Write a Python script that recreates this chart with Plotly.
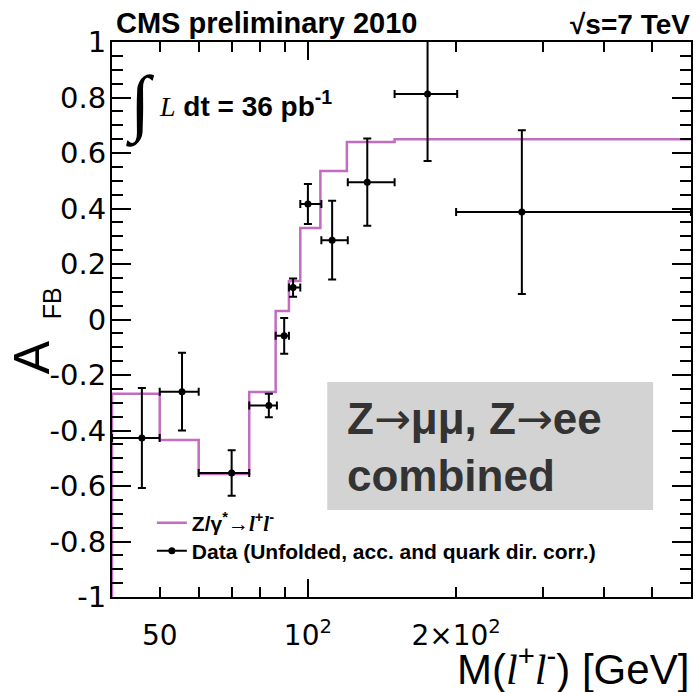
import math
import plotly.graph_objects as go

# ---------------- data ----------------
bin_edges = [40, 50, 60, 76, 86, 91.5, 96.5, 106, 120, 150, 200, 600]
pred_afb = [-0.268, -0.434, -0.557, -0.261, 0.031, 0.139, 0.33, 0.535, 0.64, 0.65, 0.65]

data_mass = [46, 55.5, 70, 83.3, 89.5, 93.3, 100, 112, 132, 175, 272]
data_mass_lo = [40, 50, 60, 76, 86, 91.5, 96.5, 106.5, 120.5, 150, 200]
data_mass_hi = [50, 60, 76, 86.5, 91.5, 96.5, 106.5, 120.5, 150, 201, 600]
data_afb = [-0.427, -0.26, -0.553, -0.31, -0.059, 0.115, 0.416, 0.286, 0.495, 0.813, 0.387]
data_err = [0.18, 0.14, 0.082, 0.042, 0.064, 0.033, 0.072, 0.142, 0.157, 0.242, 0.295]

x_tickvals = [50, 100, 200]
x_ticktext = ["50", "10<sup>2</sup>", "2×10<sup>2</sup>"]
x_minorvals = [60, 70, 80, 90, 300, 400, 500]
y_tickvals = [-1, -0.8, -0.6, -0.4, -0.2, 0, 0.2, 0.4, 0.6, 0.8, 1]
y_ticktext = ["-1", "-0.8", "-0.6", "-0.4", "-0.2", "0", "0.2", "0.4", "0.6", "0.8", "1"]

# ---------------- geometry ----------------
W, H = 696, 692
L, R, T, B = 112, 3, 42, 95
PW, PH = W - L - R, H - T - B


def px(x):
    return (x - L) / PW


def py(y):
    return (H - B - y) / PH


PINK = "#c26cc2"
SANS = "Liberation Sans"
SERIF = "Liberation Serif"
TICKF = "DejaVu Sans"
ARROW = "<span style=\"font-family:DejaVu Sans;font-weight:normal\">→</span>"
ITL = "<span style=\"font-family:Liberation Serif\"><i>l</i></span>"

fig = go.Figure()

# prediction histogram (step line, starting from the bottom of the frame)
hist_x = [bin_edges[0]] + bin_edges
hist_y = [-1] + pred_afb + [pred_afb[-1]]
fig.add_trace(go.Scatter(
    x=hist_x, y=hist_y, mode="lines", line=dict(color=PINK, width=2.5, shape="hv"),
    name="<b>Z/γ<sup>*</sup>→" + ITL + "<sup>+</sup>" + ITL + "<sup>-</sup></b>",
    legend="legend", showlegend=True, hoverinfo="skip"))

# data points
fig.add_trace(go.Scatter(
    x=data_mass, y=data_afb, mode="markers",
    marker=dict(color="black", size=7),
    error_y=dict(type="data", array=data_err, color="black", thickness=2, width=4),
    error_x=dict(type="data", symmetric=False,
                 array=[h - m for h, m in zip(data_mass_hi, data_mass)],
                 arrayminus=[m - l for l, m in zip(data_mass_lo, data_mass)],
                 color="black", thickness=2, width=4),
    showlegend=False, hoverinfo="skip"))

# legend-only entry for the data style (line + dot)
fig.add_trace(go.Scatter(
    x=[None], y=[None], xaxis="x2", mode="lines+markers",
    line=dict(color="black", width=2), marker=dict(color="black", size=7),
    name="<b>Data (Unfolded, acc. and quark dir. corr.)</b>", legend="legend2",
    showlegend=True))

xrange_log = [math.log10(40), math.log10(600)]

fig.update_layout(
    width=W, height=H,
    margin=dict(l=L, r=R, t=T, b=B, pad=0),
    paper_bgcolor="white", plot_bgcolor="white",
    font=dict(family=SANS, color="black"),
    xaxis=dict(
        type="log", range=xrange_log, tickmode="array",
        tickvals=x_tickvals, ticktext=x_ticktext,
        ticks="inside", ticklen=10, tickwidth=2, tickcolor="black",
        minor=dict(tickmode="array", tickvals=x_minorvals, ticks="inside", ticklen=10,
                   tickwidth=2, tickcolor="black", showgrid=False),
        showline=True, linecolor="black", linewidth=2, mirror="ticks",
        showgrid=False, zeroline=False,
        tickfont=dict(family=TICKF, size=28, color="black"),
        ticklabelstandoff=12,
    ),
    xaxis2=dict(
        type="log", range=xrange_log, overlaying="x", anchor="y", side="bottom",
        tickmode="array", tickvals=[100], ticks="inside", ticklen=18, tickwidth=2,
        tickcolor="black", showticklabels=False, showline=False, mirror="ticks",
        showgrid=False, zeroline=False,
    ),
    yaxis=dict(
        range=[-1, 1], tickmode="array", tickvals=y_tickvals, ticktext=y_ticktext,
        ticks="inside", ticklen=19, tickwidth=2, tickcolor="black",
        minor=dict(dtick=0.05, tick0=0, ticks="inside", ticklen=11, tickwidth=2,
                   tickcolor="black", showgrid=False),
        showline=True, linecolor="black", linewidth=2, mirror="ticks",
        showgrid=False, zeroline=False,
        tickfont=dict(family=TICKF, size=29, color="black"),
        ticklabelstandoff=-2,
    ),
    legend=dict(x=px(152), y=py(523), xanchor="left", yanchor="middle",
                bgcolor="rgba(0,0,0,0)", borderwidth=0,
                font=dict(family=SANS, size=21, color="black"), itemwidth=30),
    legend2=dict(x=px(152), y=py(551), xanchor="left", yanchor="middle",
                 bgcolor="rgba(0,0,0,0)", borderwidth=0,
                 font=dict(family=SANS, size=21, color="black"), itemwidth=30),
    showlegend=True,
)

# grey label box
fig.add_shape(type="rect", xref="paper", yref="paper",
              x0=px(328), x1=px(655), y0=py(510), y1=py(382),
              fillcolor="#d3d3d3", line=dict(width=0), layer="below")

ann = []
ann.append(dict(text="<b>Z" + ARROW + "μμ, Z" + ARROW + "ee<br>combined</b>", x=px(346), y=py(446),
                xanchor="left", yanchor="middle", align="left",
                font=dict(family=SANS, size=44, color="#333333")))
ann.append(dict(text="<b>CMS preliminary 2010</b>", x=px(114), y=py(23),
                xanchor="left", yanchor="middle",
                font=dict(family=SANS, size=29, color="black")))
ann.append(dict(text="<b>√s=7 TeV</b>", x=px(694), y=py(24),
                xanchor="right", yanchor="middle",
                font=dict(family=SANS, size=28, color="black")))
ann.append(dict(text="∫", x=px(141), y=py(104),
                xanchor="center", yanchor="middle",
                font=dict(family=SERIF, size=74, color="black")))
ann.append(dict(text="<span style=\"font-family:Liberation Serif\"><i>L</i></span> "
                     "<b>dt = 36 pb<sup>-1</sup></b>",
                x=px(157), y=py(104), xanchor="left", yanchor="middle",
                font=dict(family=SANS, size=28, color="black")))
ann.append(dict(text="M(" + ITL + "<sup>+</sup>" + ITL + "<sup>-</sup>) [GeV]",
                x=px(693), y=py(666), xanchor="right", yanchor="middle",
                font=dict(family=SANS, size=42, color="black")))
ann.append(dict(text="A", x=px(32), y=py(357), xanchor="center", yanchor="middle",
                textangle=-90, font=dict(family=SANS, size=50, color="black")))
ann.append(dict(text="FB", x=px(52), y=py(303), xanchor="center", yanchor="middle",
                textangle=-90, font=dict(family=SANS, size=25, color="black")))
for a in ann:
    a.update(xref="paper", yref="paper", showarrow=False)
fig.update_layout(annotations=ann)

fig.write_html("out.html", config={"displayModeBar": False},
               post_script="document.body.style.margin='0';")
